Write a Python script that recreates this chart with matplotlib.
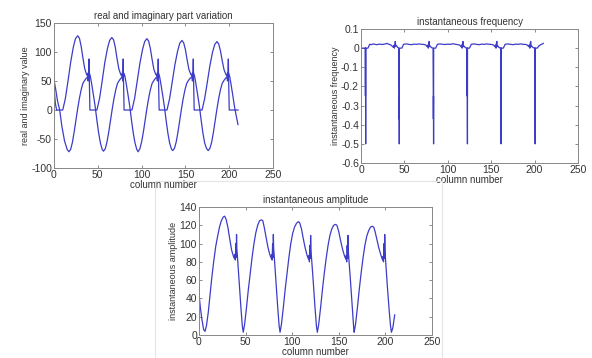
import matplotlib
matplotlib.use('Agg')
import matplotlib.pyplot as plt
from matplotlib.patches import Rectangle

plt.rcParams['font.family'] = ['Liberation Sans', 'DejaVu Sans']
plt.rcParams['axes.unicode_minus'] = False

real_x = [0, 1.5, 3, 10, 13, 16, 19, 22, 24.5, 27, 29, 31, 33, 35, 37, 38.5, 39, 39.5, 40, 40.3, 41,
          49, 52, 55, 58, 61, 63.5, 66, 68, 70, 72, 74, 76, 77.5, 78, 78.5, 79, 79.3, 80,
          89, 92, 95, 98, 101, 103.5, 106, 108, 110, 112, 114, 116, 117.5, 118, 118.5, 119, 119.3, 120,
          129, 132, 135, 138, 141, 143.5, 146, 148, 150, 152, 154, 156, 157.5, 158, 158.5, 159, 159.3, 160,
          169, 172, 175, 178, 181, 183.5, 186, 188, 190, 192, 194, 196, 197.5, 198, 198.5, 199, 199.3, 200, 210]
real_y = [40, 12, 0, 0, 20, 50, 82, 108, 123, 128, 124, 110, 90, 72, 62, 58, 64, 57, 88, 55, 0,
          0, 20, 50, 82, 106, 120, 125, 121, 108, 88, 71, 62, 58, 64, 57, 88, 55, 0,
          0, 20, 50, 80, 104, 118, 123, 119, 106, 87, 70, 62, 58, 64, 57, 88, 55, 0,
          0, 20, 49, 78, 101, 115, 120, 116, 104, 86, 70, 62, 58, 64, 57, 88, 55, 0,
          0, 20, 48, 77, 100, 113, 118, 114, 102, 85, 70, 62, 58, 64, 57, 88, 55, 0, 0]

# imaginary part
imag_x = [0, 2, 4, 6.5, 9, 12, 15, 17, 19, 21, 23, 25, 27, 29, 31, 33, 35, 37, 38.5, 39, 39.5, 40, 40.5, 41.5,
          43, 45, 47, 49, 51, 53, 55, 56.5,
          58.5, 60.5, 62.5, 64.5, 66.5, 68.5, 70.5, 72.5, 74.5, 76.5, 78, 78.5, 79, 79.5, 80, 81,
          82.5, 84.5, 86.5, 88.5, 90.5, 92.5, 94.5, 96,
          98, 100, 102, 104, 106, 108, 110, 112, 114, 116, 117.5, 118, 118.5, 119, 119.5, 120.5,
          122, 124, 126, 128, 130, 132, 134, 135.5,
          137.5, 139.5, 141.5, 143.5, 145.5, 147.5, 149.5, 151.5, 153.5, 155.5, 157.5, 158, 158.5, 159, 159.5, 160.5,
          162, 164, 166, 168, 170, 172, 174, 176,
          178, 180, 182, 184, 186, 188, 190, 192, 194, 196, 197.5, 198, 198.5, 199, 199.5, 200.5,
          202, 204, 206, 208, 210]
imag_y = [52, 35, 16, 0, -28, -53, -68, -72, -68, -56, -38, -18, 2, 20, 35, 46, 51, 55, 57, 50, 62, 58, 63, 58,
          45, 26, 6, -18, -40, -57, -68, -71,
          -67, -55, -38, -18, 2, 20, 35, 46, 51, 55, 57, 50, 62, 58, 63, 58,
          45, 26, 6, -18, -40, -57, -68, -72,
          -67, -55, -38, -18, 2, 20, 35, 46, 51, 55, 57, 50, 62, 58, 63, 58,
          45, 26, 6, -18, -40, -57, -67, -70,
          -66, -55, -38, -18, 2, 20, 35, 46, 51, 55, 57, 50, 62, 58, 63, 58,
          45, 26, 6, -18, -40, -57, -66, -70,
          -66, -55, -38, -18, 2, 20, 35, 46, 51, 55, 57, 50, 62, 58, 63, 58,
          45, 26, 6, -10, -25]

# instantaneous frequency (one line per stretch: baseline, then a drop)
freq_x = [1, 5,
          5.1, 5.2, 5.3, 5.4, 5.5,
          8, 10, 12, 14, 16, 18, 20, 22, 24, 26, 28, 30, 32, 34, 36, 37, 38, 38.5, 39, 39.5, 40, 41, 42, 43.5,
          43.8, 43.9, 44, 44.1, 44.2,
          47, 49, 52, 55, 58, 61, 64, 67, 70, 73, 75, 76, 77, 77.5, 78, 78.5, 79, 80, 81, 83,
          83.3, 83.4, 83.5, 83.6, 83.7,
          86, 88, 91, 94, 97, 100, 103, 106, 109, 112, 114, 115, 116, 116.5, 117, 117.5, 118, 119, 120, 122,
          122.3, 122.4, 122.5, 122.6, 122.7,
          125, 127, 130, 133, 136, 139, 142, 145, 148, 151, 153, 154, 155, 155.5, 156, 156.5, 157, 158, 159, 161,
          161.1, 161.2, 161.3, 161.4, 161.5,
          164, 166, 169, 172, 175, 178, 181, 184, 187, 190, 192, 193, 194, 194.5, 195, 195.5, 196, 197, 198, 200.2,
          200.3, 200.4, 200.5, 200.6, 200.7,
          203, 205, 207, 209, 210]
freq_y = [0.0, 0.0,
          -0.25, 0.0, -0.25, -0.5, 0.0,
          0.0, 0.02, 0.018, 0.022, 0.02, 0.018, 0.02, 0.021, 0.019, 0.02, 0.022, 0.025, 0.02, 0.018, 0.01, 0.005, 0.015, 0.0, 0.02, 0.035, 0.01, 0.012, 0.005, 0.0,
          -0.25, -0.37, -0.25, -0.5, 0.0,
          0.0, 0.02, 0.022, 0.02, 0.018, 0.021, 0.02, 0.022, 0.02, 0.019, 0.015, 0.008, 0.016, 0.0, 0.025, 0.035, 0.008, 0.01, 0.003, 0.0,
          -0.25, -0.37, -0.25, -0.5, 0.0,
          0.0, 0.02, 0.022, 0.02, 0.019, 0.021, 0.02, 0.023, 0.02, 0.018, 0.015, 0.008, 0.016, 0.0, 0.025, 0.035, 0.008, 0.01, 0.003, 0.0,
          -0.25, 0.0, -0.25, -0.5, 0.0,
          0.0, 0.02, 0.022, 0.02, 0.018, 0.021, 0.02, 0.022, 0.02, 0.019, 0.015, 0.008, 0.016, 0.0, 0.025, 0.035, 0.008, 0.01, 0.003, 0.0,
          -0.25, 0.0, -0.25, -0.5, 0.0,
          0.0, 0.02, 0.022, 0.02, 0.018, 0.021, 0.02, 0.022, 0.02, 0.019, 0.015, 0.008, 0.016, 0.0, 0.025, 0.035, 0.008, 0.01, 0.003, 0.0,
          -0.25, 0.0, -0.25, -0.5, 0.0,
          0.0, 0.012, 0.018, 0.022, 0.025]

# instantaneous amplitude
amp_x = [0, 0.5, 1.5, 3, 5, 6.5, 8, 10, 12, 14, 16, 18, 20, 22, 24, 26, 27.5, 29, 31, 33, 35, 37, 38, 38.5, 39, 39.5, 40, 40.3, 40.6, 41, 43, 45, 46.5, 47.5,
         49, 51, 53, 55, 57, 59, 61, 63, 65, 67, 68.5, 70, 72, 74, 76, 77.5, 78, 78.5, 79, 79.5, 79.8, 80.1, 80.5, 82.5, 84.5, 86, 87,
         88.5, 90.5, 92.5, 94.5, 96.5, 98.5, 100.5, 102.5, 104.5, 106.5, 108, 110, 112, 114, 116, 117.5, 118, 118.5, 119, 119.5, 119.8, 120.1, 120.5, 122.5, 124.5, 126, 127,
         128.5, 130.5, 132.5, 134.5, 136.5, 138.5, 140.5, 142.5, 144.5, 146.5, 148, 150, 152, 154, 156, 157.5, 158, 158.5, 159, 159.5, 159.8, 160.1, 160.5, 162.5, 164.5, 166, 166.5,
         168, 170, 172, 174, 176, 178, 180, 182, 184, 186, 187.5, 189, 191, 193, 195, 197, 197.5, 198, 198.5, 199, 199.3, 199.6, 200, 202, 204, 205.5, 206.5, 208, 209, 210]
amp_y = [55, 40, 30, 18, 6, 4, 10, 25, 45, 65, 82, 97, 108, 118, 125, 129, 130, 127, 118, 105, 93, 86, 84, 88, 82, 100, 85, 110, 95, 90, 60, 30, 10, 3,
         12, 30, 50, 68, 85, 100, 112, 120, 125, 126, 125, 118, 107, 96, 88, 84, 88, 82, 100, 85, 110, 95, 90, 60, 30, 10, 3,
         12, 30, 50, 68, 85, 100, 111, 118, 122, 124, 123, 116, 105, 95, 87, 83, 87, 80, 98, 84, 109, 94, 88, 60, 30, 10, 3,
         12, 30, 50, 68, 84, 98, 109, 116, 120, 121, 120, 113, 103, 94, 87, 83, 87, 80, 98, 84, 109, 94, 88, 60, 30, 8, 3,
         12, 30, 50, 68, 84, 98, 108, 114, 118, 119, 118, 113, 104, 95, 88, 82, 86, 80, 100, 84, 110, 94, 85, 55, 28, 10, 3, 8, 15, 22]

line_color = '#3c3cc8'
text_color = '#333333'

fig = plt.figure(figsize=(5.92, 3.58), dpi=100)
fig.add_artist(Rectangle((0.262, -0.01), 0.485, 0.505, transform=fig.transFigure,
                         fill=False, edgecolor='#e4e4e4', lw=0.8))

def style(ax, xlab, ylab, title):
    ax.set_xlim(0, 250)
    ax.set_xticks([0, 50, 100, 150, 200, 250])
    ax.tick_params(direction='in', top=True, right=True, length=2.5, width=0.6,
                   labelsize=7.5, colors='#777777', labelcolor=text_color, pad=1.5)
    for s in ax.spines.values():
        s.set_color('#888888')
        s.set_linewidth(0.7)
    ax.set_xlabel(xlab, fontsize=7, color=text_color, labelpad=0)
    ax.set_ylabel(ylab, fontsize=6.5, color=text_color, labelpad=1)
    ax.set_title(title, fontsize=7, color=text_color, pad=3)

ax1 = fig.add_axes([0.0912, 0.5307, 0.370, 0.405])
ax1.plot(real_x, real_y, color=line_color, lw=0.9)
ax1.plot(imag_x, imag_y, color=line_color, lw=0.9)
ax1.set_ylim(-100, 150)
ax1.set_yticks([-100, -50, 0, 50, 100, 150])
style(ax1, 'column number', 'real and imaginary value', 'real and imaginary part variation')

ax2 = fig.add_axes([0.6098, 0.5447, 0.3666, 0.3743])
ax2.plot(freq_x, freq_y, color=line_color, lw=0.9)
ax2.set_ylim(-0.6, 0.1)
ax2.set_yticks([-0.6, -0.5, -0.4, -0.3, -0.2, -0.1, 0, 0.1])
ax2.set_yticklabels(['-0.6', '-0.5', '-0.4', '-0.3', '-0.2', '-0.1', '0', '0.1'])
style(ax2, 'column number', 'instantaneous frequency', 'instantaneous frequency')

ax3 = fig.add_axes([0.3361, 0.0642, 0.3936, 0.3575])
ax3.plot(amp_x, amp_y, color=line_color, lw=0.9)
ax3.set_ylim(0, 140)
ax3.set_yticks([0, 20, 40, 60, 80, 100, 120, 140])
style(ax3, 'column number', 'instantaneous amplitude', 'instantaneous amplitude')

fig.savefig('out.png', dpi=100)
